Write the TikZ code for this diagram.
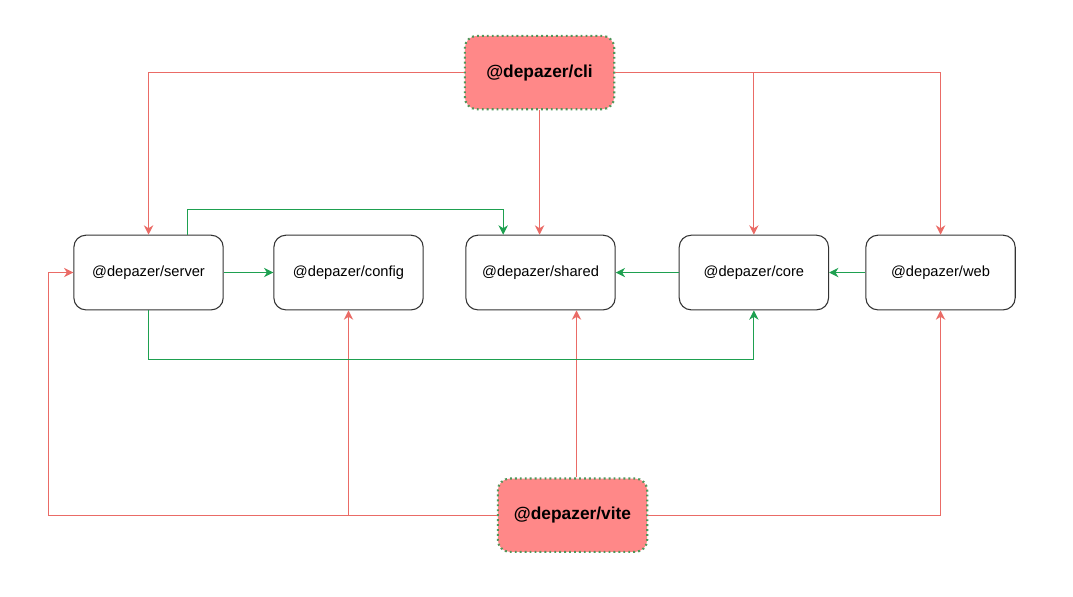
\documentclass[tikz,border=0pt]{standalone}
\usepackage{fontspec}
\setmainfont{Liberation Sans}
\usepackage{tikz}
\usetikzlibrary{arrows.meta}
\usetikzlibrary{positioning}
\definecolor{deplink}{RGB}{234,107,102}
\definecolor{devlink}{RGB}{30,160,80}
\definecolor{appfill}{RGB}{255,136,136}
\definecolor{appline}{RGB}{80,150,90}
\tikzstyle{pkg}=[
   rectangle,
   rounded corners=9pt,
   draw=black!80,
   line width=0.8pt,
   fill=white,
   minimum width=112pt,
   minimum height=56pt,
   font=\fontsize{11}{13}\selectfont
]
\tikzstyle{app}=[
   rectangle,
   rounded corners=9pt,
   draw=appline,
   line width=1.6pt,
   dash pattern=on 1.4pt off 2.3pt,
   fill=appfill,
   minimum width=112pt,
   minimum height=55pt,
   font=\fontsize{13}{15}\selectfont\bfseries
]
\tikzstyle{uses}=[draw=deplink, line width=0.9pt]
\tikzstyle{needs}=[draw=devlink, line width=0.9pt]

\begin{document}
\begin{tikzpicture}[
         >={Stealth[length=7pt,width=7pt,inset=2.2pt]},
         node distance=150pt
      ]
      \useasboundingbox (0,0) rectangle (804.75pt,-447pt);

      \node (server) [pkg] at (111.4pt,-204.4pt) {@depazer/server};
      \node (config) [pkg, right of=server] {@depazer/config};
      \node (shared) [pkg, right of=config, xshift=-6pt] {@depazer/shared};
      \node (core) [pkg, right of=shared, xshift=10pt] {@depazer/core};
      \node (web) [pkg, right of=core, xshift=-10pt] {@depazer/web};

      \node (cli) [app, above of=shared, xshift=-0.75pt] {@depazer/cli};
      \node (vite) [app, below of=shared, xshift=24pt, yshift=-32pt] {@depazer/vite};

      % cli
      \draw[uses, ->] (cli.west) -| (server.north);
      \draw[uses, ->] (cli.east) -| (web.north);
      \draw[uses, ->] (cli.east -| core.north) -- (core.north);
      \draw[uses, ->] (cli.south) -- (cli.south |- shared.north);

      % vite
      \draw[uses, ->] (vite.west) -| ([xshift=-18.75pt]server.west) -- (server.west);
      \draw[uses, ->] (config.south |- vite.west) -- (config.south);
      \draw[uses, ->] ([xshift=27pt]shared.south |- vite.north) -- ([xshift=27pt]shared.south);
      \draw[uses, ->] (vite.east) -| (web.south);

      % packages
      \coordinate (up) at ([xshift=29pt, yshift=18.75pt]server.north);
      \coordinate (down) at ([yshift=-36.75pt]server.south);
      \draw[needs, ->] (server) -- (config);
      \draw[needs, ->] ([xshift=29pt]server.north) -- (up) -| ([xshift=-28pt]shared.north);
      \draw[needs, ->] (server.south) -- (down) -| (core.south);
      \draw[needs, ->] (core) -- (shared);
      \draw[needs, ->] (web) -- (core);

   \end{tikzpicture}
\end{document}
